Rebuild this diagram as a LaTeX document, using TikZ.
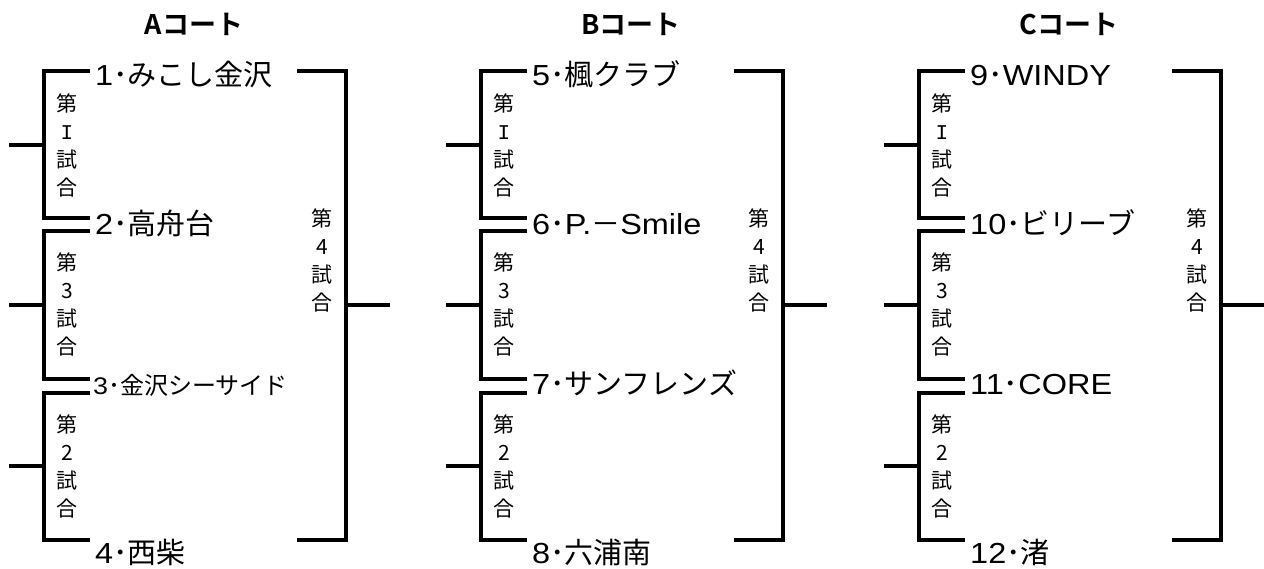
\documentclass[tikz,border=0pt]{standalone}
\usepackage{fontspec}
\setmainfont{Noto Sans CJK JP}[BoldFont={Noto Sans CJK JP Bold}]
\newfontfamily\latf{Liberation Sans}[FakeStretch=1.12]
\newfontfamily\monof{Liberation Mono}
\newcommand\Lt[1]{{\latf #1}}
\newcommand\mycourt[8]{%
\begin{scope}[xshift=#1pt]
  \node[ttl] (#2title) at (194,35) {#2コート};
  % first round brackets
  \coordinate (#2p1t) at (90,71);  \coordinate (#2p1b) at (90,218);
  \coordinate (#2p2t) at (90,231); \coordinate (#2p2b) at (90,379);
  \coordinate (#2p3t) at (90,393); \coordinate (#2p3b) at (90,540);
  \draw[bk] (#2p1t) -| (44,145) |- (#2p1b);
  \draw[bk] (#2p2t) -| (44,305) |- (#2p2b);
  \draw[bk] (#2p3t) -| (44,466) |- (#2p3b);
  \coordinate (#2s1) at (9,145); \coordinate (#2s2) at (9,305); \coordinate (#2s3) at (9,466);
  \draw[bk] (#2s1) -- (44,145);
  \draw[bk] (#2s2) -- (44,305);
  \draw[bk] (#2s3) -- (44,466);
  % final bracket
  \coordinate (#2ft) at (297,71); \coordinate (#2fb) at (297,540);
  \coordinate (#2fs) at (390,305);
  \draw[bk] (#2ft) -| (346,305) |- (#2fb);
  \draw[bk] (346,305) -- (#2fs);
  % match labels
  \node[vlab] (#2m1) at (67,145) {第\\{\monof I}\\試\\合};
  \node[vlab] (#2m3) at (67,304) {第\\3\\試\\合};
  \node[vlab] (#2m2) at (67,466) {第\\2\\試\\合};
  \node[vlab] (#2m4) at (322,260) {第\\4\\試\\合};
  % teams
  \node[team] (#2t1) at (95,86) {#3};
  \node[team] (#2t2) at (95,235) {#4};
  \node[#8] (#2t3) at (#7,394) {#5};
  \node[team] (#2t4) at (95,563) {#6};
\end{scope}}
\begin{document}
\begin{tikzpicture}[x=1pt,y=-1pt,
  bk/.style={line width=3.3pt, line join=miter, line cap=butt},
  team/.style={anchor=base west, inner sep=0pt, font=\fontsize{29}{30}\selectfont},
  teamsm/.style={anchor=base west, inner sep=0pt, font=\fontsize{24}{26}\selectfont},
  vlab/.style={align=center, inner sep=0pt, font=\fontsize{21}{28}\selectfont},
  ttl/.style={anchor=base, inner sep=0pt, font=\bfseries\fontsize{27}{30}\selectfont}]
\useasboundingbox[fill=white] (0,0) rectangle (1264,569);
\mycourt{0}{A}{\Lt{1}･みこし金沢}{\Lt{2}･高舟台}{\Lt{3}･金沢シーサイド}{\Lt{4}･西柴}{93}{teamsm}
\mycourt{437}{B}{\Lt{5}･楓クラブ}{\Lt{6}･\Lt{P.}－\Lt{Smile}}{\Lt{7}･サンフレンズ}{\Lt{8}･六浦南}{95}{team}
\mycourt{875}{C}{\Lt{9}･\Lt{WINDY}}{\Lt{10}･ビリーブ}{\Lt{11}･\Lt{CORE}}{\Lt{12}･渚}{95}{team}
\end{tikzpicture}
\end{document}
